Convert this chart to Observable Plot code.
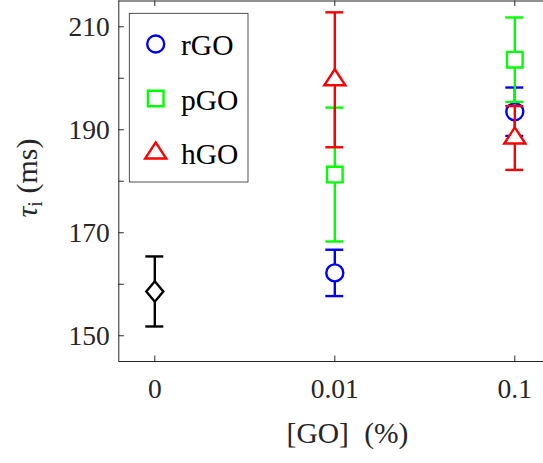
<!DOCTYPE html>
<html><head><meta charset="utf-8">
<script src="https://cdn.jsdelivr.net/npm/d3@7"></script>
<script src="https://cdn.jsdelivr.net/npm/@observablehq/plot@0.6"></script>
<style>html,body{margin:0;padding:0;background:#fff;overflow:hidden;}</style>
</head><body><div id="chart"></div>
<script>
// ---- data ----
const concentrations = ["0", "0.01", "0.1"];
const seriesNames = ["rGO", "pGO", "hGO"];
const seriesColors = ["#0000ff", "#00ff00", "#ff0000"];
const controlMean = [158.6];
const controlErr = [6.8];
const rGOMean = [162.2, 193.5];
const rGOErr = [4.5, 4.7];
const pGOMean = [181.3, 203.6];
const pGOErr = [13.0, 8.2];
const hGOMean = [199.7, 188.4];
const hGOErr = [13.1, 6.2];
const yTickLabels = [150, 170, 190, 210];
const yMinorTicks = [160, 180, 200];

// ---- symbols (MATLAB-like markers) ----
const symSquare = {draw(c, size) { const r = Math.sqrt(size / Math.PI) * 0.92; c.moveTo(-r, -r); c.lineTo(r, -r); c.lineTo(r, r); c.lineTo(-r, r); c.closePath(); }};
const symTriangle = {draw(c, size) { const r = Math.sqrt(size / Math.PI); c.moveTo(0, -1.24 * r); c.lineTo(1.24 * r, 0.65 * r); c.lineTo(-1.24 * r, 0.65 * r); c.closePath(); }};
const symDiamond = {draw(c, size) { const r = Math.sqrt(size / Math.PI); c.moveTo(0, -1.2 * r); c.lineTo(r, 0); c.lineTo(0, 1.2 * r); c.lineTo(-r, 0); c.closePath(); }};
const symCircle = {draw(c, size) { const r = Math.sqrt(size / Math.PI); c.moveTo(r, 0); c.arc(0, 0, r, 0, 2 * Math.PI); }};
const seriesSymbols = [symCircle, symSquare, symTriangle];

// ---- rows ----
const controlRows = controlMean.map((m, i) => ({x: i, mean: m, lo: m - controlErr[i], hi: m + controlErr[i]}));
const seriesMeans = [rGOMean, pGOMean, hGOMean];
const seriesErrs = [rGOErr, pGOErr, hGOErr];
const seriesRows = seriesNames.map((name, s) => seriesMeans[s].map((m, i) => ({x: i + 1, mean: m, lo: m - seriesErrs[s][i], hi: m + seriesErrs[s][i], name})));

const xDomain = [-0.2, 2.2];
const yDomain = [145, 215];
const pxPerX = 180, pxPerY = 360.5 / 70;
const capHalf = 9 / pxPerX;
const tickLenX = 5.5 / pxPerX, tickLenY = 5.5 / pxPerY;
const R = 8.5, SW = 2.4;
const axisColor = "#262626";

function errMarks(rows, color, sym) {
  return [
    Plot.ruleX(rows, {x: "x", y1: "lo", y2: "hi", stroke: color, strokeWidth: SW}),
    Plot.ruleY(rows, {y: "hi", x1: d => d.x - capHalf, x2: d => d.x + capHalf, stroke: color, strokeWidth: SW}),
    Plot.ruleY(rows, {y: "lo", x1: d => d.x - capHalf, x2: d => d.x + capHalf, stroke: color, strokeWidth: SW}),
    Plot.dot(rows, {x: "x", y: "mean", r: R, symbol: sym, stroke: color, fill: "white", strokeWidth: SW})
  ];
}

const allY = [...yTickLabels, ...yMinorTicks];
const plot = Plot.plot({
  width: 543, height: 463,
  marginLeft: 118.3, marginRight: 0, marginTop: 0.5, marginBottom: 102,
  style: {fontFamily: "'Liberation Serif', 'Times New Roman', serif", fontSize: "27.5px", color: axisColor, background: "white"},
  x: {domain: xDomain, range: [118.3, 118.3 + 2.4 * pxPerX], label: null},
  y: {domain: yDomain, range: [361, 0.5], label: null},
  marks: [
    Plot.ruleX([xDomain[0]], {x: d => d, y1: yDomain[0], y2: yDomain[1], stroke: axisColor, strokeWidth: 1}),
    Plot.ruleY([yDomain[0], yDomain[1]], {y: d => d, x1: xDomain[0], x2: xDomain[1], stroke: axisColor, strokeWidth: 1}),
    Plot.ruleY(allY, {y: d => d, x1: xDomain[0], x2: xDomain[0] + tickLenX, stroke: axisColor, strokeWidth: 1}),
    Plot.ruleX(concentrations.map((c, i) => i), {x: d => d, y1: yDomain[0], y2: yDomain[0] + tickLenY, stroke: axisColor, strokeWidth: 1}),
    Plot.ruleX(concentrations.map((c, i) => i), {x: d => d, y1: yDomain[1], y2: yDomain[1] - tickLenY, stroke: axisColor, strokeWidth: 1}),
    Plot.axisY(yTickLabels, {tickSize: 0, tickPadding: 9, fill: axisColor, fontSize: 27.5, label: null}),
    Plot.axisX(concentrations.map((c, i) => i), {tickSize: 0, tickPadding: 16.5, tickFormat: i => concentrations[i], fill: axisColor, fontSize: 27.5, label: null}),
    ...errMarks(controlRows, "black", symDiamond),
    ...seriesRows.flatMap((rows, s) => errMarks(rows, seriesColors[s], seriesSymbols[s]))
  ]
});
document.getElementById("chart").appendChild(plot);

// ---- labels and legend ----
const svg = d3.select(plot);
const font = "'Liberation Serif', 'Times New Roman', serif";

const xl = svg.append("text").attr("x", 347.5).attr("y", 443).attr("text-anchor", "middle")
  .attr("font-family", font).attr("font-size", 29.5).attr("fill", axisColor);
xl.append("tspan").text("[GO]");
xl.append("tspan").attr("dx", 8).text(" (%)");

const yl = svg.append("text").attr("transform", "translate(37,178) rotate(-90)").attr("text-anchor", "middle")
  .attr("font-family", font).attr("font-size", 30).attr("fill", axisColor);
yl.append("tspan").attr("font-style", "italic").text("τ");
yl.append("tspan").attr("font-size", 20).attr("dy", 5).text("i");
yl.append("tspan").attr("dy", -5).text(" (ms)");

const lg = svg.append("g");
lg.append("rect").attr("x", 129.3).attr("y", 13.3).attr("width", 118.7).attr("height", 168.7)
  .attr("fill", "white").attr("stroke", axisColor).attr("stroke-width", 0.8);
const legendY = [44, 98.5, 153];
seriesNames.forEach((name, s) => {
  lg.append("path").attr("transform", `translate(155.7,${legendY[s]})`)
    .attr("d", d3.symbol(seriesSymbols[s], Math.PI * R * R)())
    .attr("fill", "white").attr("stroke", seriesColors[s]).attr("stroke-width", SW);
  lg.append("text").attr("x", 181).attr("y", legendY[s] + 11).attr("text-anchor", "start")
    .attr("font-family", font).attr("font-size", 29.5).attr("fill", "black").text(name);
});
</script>
</body></html>
